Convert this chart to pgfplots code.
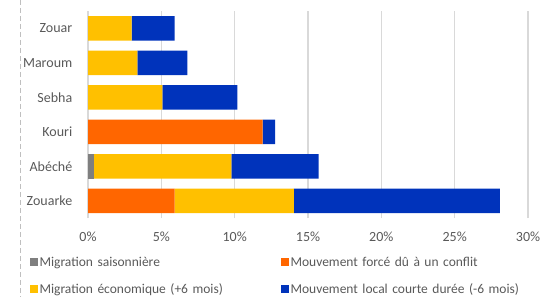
\documentclass[border=0pt]{standalone}
\usepackage{fontspec}
\setmainfont{Carlito}
\usepackage{pgfplots}
\pgfplotsset{compat=1.18}
\definecolor{cgray}{HTML}{7F7F7F}
\definecolor{corange}{HTML}{FF6600}
\definecolor{cyellow}{HTML}{FFC000}
\definecolor{cblue}{HTML}{0033BB}
\definecolor{ctext}{HTML}{595959}
\definecolor{cgrid}{HTML}{D9D9D9}
\begin{document}
\fontsize{13.5}{16}\selectfont
\begin{tikzpicture}
\begin{axis}[
  at={(0pt,0pt)}, anchor=south west,
  scale only axis, width=440pt, height=207pt,
  xbar stacked, bar width=24.5pt,
  xmin=0, xmax=30, ymin=-0.5, ymax=5.5,
  axis line style={draw=none},
  xmajorgrids, grid style={cgrid, line width=1.2pt},
  xtick={0,5,10,15,20,25,30},
  xticklabels={0\%,5\%,10\%,15\%,20\%,25\%,30\%},
  ytick={0,1,2,3,4,5},
  yticklabels={Zouarke,Abéché,Kouri,Sebha,Maroum,Zouar},
  major tick length=0pt,
  xticklabel style={text=ctext, font=\fontsize{14}{16}\selectfont, yshift=-9pt},
  yticklabel style={text=ctext, font=\fontsize{14}{16}\selectfont, xshift=-11pt},
  legend columns=2,
  legend style={at={(-0.139,-0.167)}, anchor=north west, draw=none, fill=none,
    font=\fontsize{13.5}{16}\selectfont, text=ctext, row sep=11pt,
    nodes={text width=240pt, align=left, inner xsep=1.5pt},
    /tikz/every even column/.append style={column sep=0pt}},
  legend image code/.code={\fill[#1] (0pt,-4pt) rectangle (8pt,4pt);},
]
\addplot[fill=cgray, draw=none] coordinates {(0,0) (0.39,1) (0,2) (0,3) (0,4) (0,5)};
\addplot[fill=corange, draw=none] coordinates {(5.91,0) (0,1) (11.9,2) (0,3) (0,4) (0,5)};
\addplot[fill=cyellow, draw=none] coordinates {(8.13,0) (9.38,1) (0,2) (5.07,3) (3.36,4) (2.98,5)};
\addplot[fill=cblue, draw=none] coordinates {(14.04,0) (5.95,1) (0.85,2) (5.11,3) (3.41,4) (2.93,5)};
\legend{Migration saisonnière, Mouvement forcé dû à un conflit, Migration économique (+6 mois), Mouvement local courte durée (-6 mois)}
\end{axis}
\draw[color=black!25, dash pattern=on 5pt off 3pt, line width=0.8pt] (-67.3pt,218pt) -- (-67.3pt,-79pt);
\pgfresetboundingbox
\path (-88pt,218pt) rectangle (460pt,-79pt);
\end{tikzpicture}
\end{document}
